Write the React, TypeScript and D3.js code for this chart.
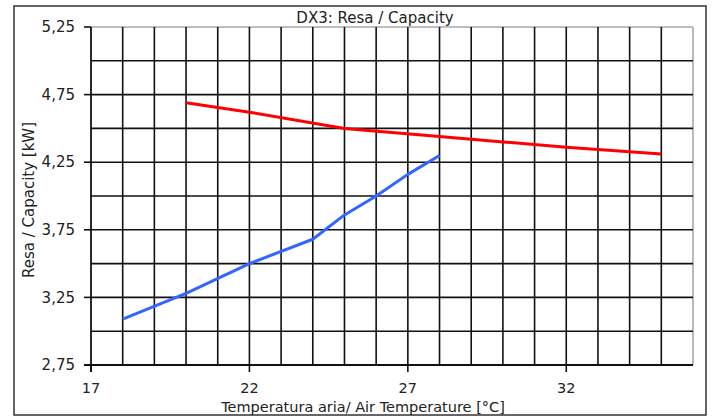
import React from "react";
import * as d3 from "d3";

const chartTitle = "DX3: Resa / Capacity";
const xAxisTitle = "Temperatura aria/ Air Temperature [°C]";
const yAxisTitle = "Resa / Capacity [kW]";

const xTickValues = [17, 22, 27, 32];
const yTickValues = [2.75, 3.25, 3.75, 4.25, 4.75, 5.25];

// red series (x °C, y kW)
const redX = [20, 22, 25, 28, 30, 32, 35];
const redY = [4.69, 4.62, 4.5, 4.44, 4.4, 4.36, 4.31];

// blue series
const blueX = [18, 20, 22, 24, 25, 26, 27, 28];
const blueY = [3.09, 3.28, 3.5, 3.68, 3.86, 4.0, 4.16, 4.3];

const W = 712;
const H = 417;
const FONT = "'DejaVu Sans', Verdana, sans-serif";

export default function App() {
  const x = d3.scaleLinear().domain([17, 36]).range([91, 693]);
  const y = d3.scaleLinear().domain([2.75, 5.25]).range([365, 27]);

  const xGrid = d3.range(18, 36, 1);
  const yGrid = d3.range(3.0, 5.2, 0.25);

  const line = d3
    .line<[number, number]>()
    .x((d) => x(d[0]))
    .y((d) => y(d[1]));

  const red = redX.map((v, i) => [v, redY[i]] as [number, number]);
  const blue = blueX.map((v, i) => [v, blueY[i]] as [number, number]);

  const fmt = (v: number) => v.toFixed(2).replace(".", ",");

  const [x0, x1] = x.range();
  const [y0, y1] = y.range();

  return (
    <svg
      width={W}
      height={H}
      style={{ position: "absolute", left: 0, top: 0, background: "#fff" }}
      fontFamily={FONT}
    >
      <rect x={0} y={0} width={W} height={H} fill="#fff" />
      <rect x={14} y={6} width={692} height={409} fill="none" stroke="#333" strokeWidth={1.5} />

      {/* top & right border (gray) */}
      <line x1={x0} x2={x1} y1={y(5.25)} y2={y(5.25)} stroke="#a8a8a8" strokeWidth={1.6} />
      <line x1={x(36)} x2={x(36)} y1={y1} y2={y0} stroke="#a8a8a8" strokeWidth={1.6} />

      {/* grid */}
      {xGrid.map((v) => (
        <line key={"gx" + v} x1={x(v)} x2={x(v)} y1={y1} y2={y0} stroke="#111" strokeWidth={1.6} />
      ))}
      {yGrid.map((v) => (
        <line key={"gy" + v} x1={x0} x2={x1} y1={y(v)} y2={y(v)} stroke="#111" strokeWidth={1.6} />
      ))}

      {/* axes */}
      <line x1={x0} x2={x0} y1={y1} y2={y0 + 7} stroke="#111" strokeWidth={1.8} />
      <line x1={x0 - 7} x2={x1} y1={y0} y2={y0} stroke="#111" strokeWidth={1.8} />

      {/* y ticks */}
      {yTickValues.map((v) => (
        <g key={"yt" + v}>
          <line x1={x0 - 7} x2={x0} y1={y(v)} y2={y(v)} stroke="#111" strokeWidth={1.6} />
          <text x={75} y={y(v)} dy="0.35em" textAnchor="end" fontSize={15} fill="#222">
            {fmt(v)}
          </text>
        </g>
      ))}

      {/* x ticks */}
      {xTickValues.map((v) => (
        <g key={"xt" + v}>
          <line x1={x(v)} x2={x(v)} y1={y0} y2={y0 + 7} stroke="#111" strokeWidth={1.6} />
          <text x={x(v)} y={393} textAnchor="middle" fontSize={14.5} fill="#222">
            {v}
          </text>
        </g>
      ))}

      {/* series */}
      <path d={line(blue) || ""} fill="none" stroke="#3366ff" strokeWidth={3} strokeLinejoin="round" />
      <path d={line(red) || ""} fill="none" stroke="#ff0000" strokeWidth={3} strokeLinejoin="round" />

      {/* titles */}
      <text x={375} y={23} textAnchor="middle" fontSize={15} fill="#222">
        {chartTitle}
      </text>
      <text x={363} y={411.5} textAnchor="middle" fontSize={14.5} fill="#222">
        {xAxisTitle}
      </text>
      <text
        transform={`translate(34,200) rotate(-90)`}
        textAnchor="middle"
        fontSize={15}
        fill="#222"
      >
        {yAxisTitle}
      </text>
    </svg>
  );
}
